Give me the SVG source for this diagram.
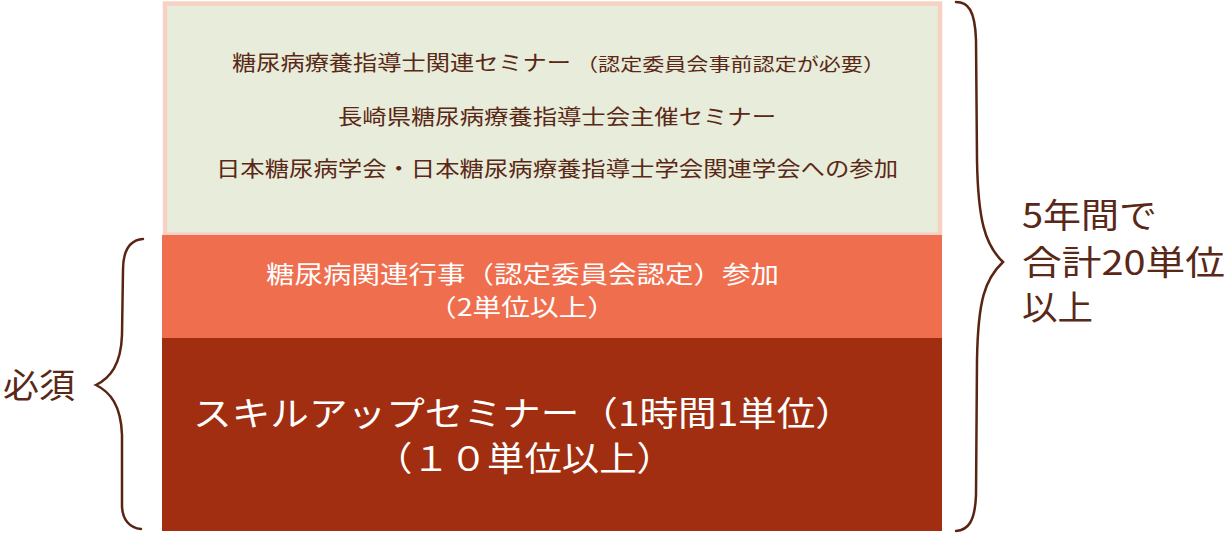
<svg xmlns="http://www.w3.org/2000/svg" width="1228" height="533" viewBox="0 0 1228 533">
<style>
text{font-family:"Noto Sans CJK JP","Noto Sans",sans-serif;}
.dk{fill:#5a2816;}
.wt{fill:#ffffff;}
.brace{fill:none;stroke:#5a2412;stroke-width:2.5;stroke-linecap:round;}
</style>
<rect width="1228" height="533" fill="#ffffff"/>
<g id="node-top">
<rect x="165" y="3.5" width="775" height="231" fill="#e8ecda" stroke="#f7d1c4" stroke-width="4.5"/>
<text class="dk" font-size="21" x="232" y="70" textLength="339" lengthAdjust="spacingAndGlyphs">糖尿病療養指導士関連セミナー</text>
<text class="dk" font-size="18" x="576" y="71" textLength="309" lengthAdjust="spacingAndGlyphs">（認定委員会事前認定が必要）</text>
<text class="dk" font-size="21" x="338" y="124" textLength="438" lengthAdjust="spacingAndGlyphs">長崎県糖尿病療養指導士会主催セミナー</text>
<text class="dk" font-size="21" x="216" y="176" textLength="682" lengthAdjust="spacingAndGlyphs">日本糖尿病学会・日本糖尿病療養指導士学会関連学会への参加</text>
</g>
<g id="node-middle">
<rect x="162" y="235" width="780" height="103" fill="#ef6e4e"/>
<text class="wt" font-size="24" x="266" y="283" textLength="513" lengthAdjust="spacingAndGlyphs">糖尿病関連行事（認定委員会認定）参加</text>
<text class="wt" font-size="24" x="428" y="316" textLength="188" lengthAdjust="spacingAndGlyphs">（2単位以上）</text>
</g>
<g id="node-bottom">
<rect x="162" y="338" width="780" height="193" fill="#a12e10"/>
<text class="wt" font-size="34" x="193" y="426" textLength="661" lengthAdjust="spacingAndGlyphs">スキルアップセミナー（1時間1単位）</text>
<text class="wt" font-size="34" x="375" y="471" textLength="299" lengthAdjust="spacingAndGlyphs">（１０単位以上）</text>
</g>
<g id="label-left">
<text class="dk" font-size="34" x="3" y="398" textLength="72" lengthAdjust="spacingAndGlyphs">必須</text>
</g>
<g id="label-right">
<text class="dk" font-size="34" x="1022" y="228" textLength="135" lengthAdjust="spacingAndGlyphs">5年間で</text>
<text class="dk" font-size="34" x="1022" y="275" textLength="203" lengthAdjust="spacingAndGlyphs">合計20単位</text>
<text class="dk" font-size="34" x="1022" y="320" textLength="71" lengthAdjust="spacingAndGlyphs">以上</text>
</g>
<g id="connectors">
<path class="brace" d="M 956 2 C 968 2, 975 10, 976 40 L 977 160 C 978 220, 985 245, 1003 262 C 985 279, 978 300, 977 360 L 976 495 C 975 522, 968 530, 956 531"/>
<path class="brace" d="M 143 239 C 130 240, 123 250, 123 270 L 122 335 C 121 365, 110 378, 96 385 C 110 392, 121 405, 122 435 L 122 505 C 122 520, 130 528, 141 529"/>
</g>
</svg>
